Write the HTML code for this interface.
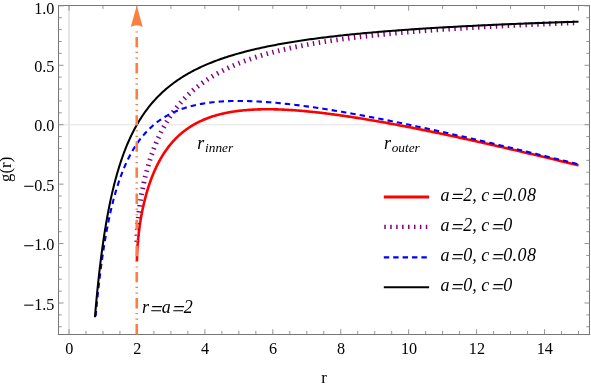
<!DOCTYPE html>
<html><head><meta charset="utf-8">
<style>
html,body{margin:0;padding:0;background:#fff;}
body{width:591px;height:384px;overflow:hidden;font-family:"Liberation Serif",serif;}
svg{display:block;will-change:transform;}
text{font-family:"Liberation Serif",serif;fill:#000;}
.tl{font-size:16.2px;}
.tk{stroke:#888;stroke-width:0.9;}
.it{font-style:italic;}
.eq{stroke:#000;stroke-width:1.15;fill:none;}
</style></head><body>
<svg width="591" height="384" viewBox="0 0 591 384">
<rect width="591" height="384" fill="#fff"/>
<!-- axes grid lines -->
<line x1="69.00" y1="5.5" x2="69.00" y2="334.5" stroke="#cdcdcd" stroke-width="1"/>
<line x1="58.5" y1="124.85" x2="589.5" y2="124.85" stroke="#e2e2e2" stroke-width="1"/>
<!-- curves -->
<clipPath id="cp"><rect x="58.5" y="5.5" width="531" height="311.9"/></clipPath>
<g fill="none" stroke-linejoin="round" clip-path="url(#cp)">
<path d="M136.94 261.18 L136.94 261.18 L136.94 261.17 L136.94 261.17 L136.94 261.16 L136.94 261.14 L136.94 261.11 L136.94 261.07 L136.94 261.03 L136.94 260.97 L136.94 260.90 L136.94 260.81 L136.94 260.72 L136.94 260.61 L136.94 260.49 L136.95 260.37 L136.95 260.23 L136.95 260.08 L136.95 259.93 L136.95 259.76 L136.96 259.59 L136.96 259.41 L136.96 259.22 L136.96 259.03 L136.97 258.83 L136.97 258.62 L136.97 258.41 L136.98 258.19 L136.98 257.96 L136.99 257.73 L136.99 257.50 L137.00 257.26 L137.01 257.01 L137.01 256.76 L137.02 256.51 L137.03 256.24 L137.03 255.98 L137.04 255.71 L137.05 255.43 L137.06 255.16 L137.07 254.87 L137.08 254.58 L137.09 254.29 L137.10 254.00 L137.11 253.70 L137.13 253.39 L137.14 253.08 L137.15 252.77 L137.17 252.45 L137.18 252.13 L137.20 251.81 L137.21 251.48 L137.23 251.14 L137.24 250.81 L137.26 250.47 L137.28 250.12 L137.30 249.77 L137.32 249.42 L137.34 249.07 L137.36 248.71 L137.38 248.34 L137.41 247.98 L137.43 247.61 L137.45 247.23 L137.48 246.85 L137.50 246.47 L137.53 246.09 L137.56 245.70 L137.58 245.31 L137.61 244.91 L137.64 244.51 L137.67 244.11 L137.71 243.71 L137.74 243.30 L137.77 242.88 L137.81 242.47 L137.84 242.05 L137.88 241.63 L137.91 241.20 L137.95 240.77 L137.99 240.34 L138.03 239.90 L138.07 239.47 L138.11 239.02 L138.16 238.58 L138.20 238.13 L138.25 237.68 L138.29 237.22 L138.34 236.77 L138.39 236.31 L138.44 235.84 L138.49 235.38 L138.54 234.91 L138.59 234.43 L138.65 233.96 L138.70 233.48 L138.76 233.00 L138.81 232.52 L138.87 232.03 L138.93 231.54 L138.99 231.05 L139.06 230.55 L139.12 230.05 L139.18 229.55 L139.25 229.05 L139.32 228.54 L139.39 228.03 L139.46 227.52 L139.53 227.01 L139.60 226.49 L139.67 225.97 L139.75 225.45 L139.83 224.93 L139.90 224.40 L139.98 223.87 L140.06 223.34 L140.15 222.81 L140.23 222.27 L140.31 221.74 L140.40 221.20 L140.49 220.65 L140.58 220.11 L140.67 219.56 L140.76 219.02 L140.86 218.46 L140.95 217.91 L141.05 217.36 L141.15 216.80 L141.25 216.24 L141.35 215.68 L141.45 215.12 L141.56 214.55 L141.66 213.99 L141.77 213.42 L141.88 212.85 L141.99 212.28 L142.11 211.71 L142.22 211.13 L142.34 210.56 L142.46 209.98 L142.58 209.40 L142.70 208.82 L142.82 208.24 L142.95 207.66 L143.07 207.07 L143.20 206.49 L143.33 205.90 L143.47 205.31 L143.60 204.72 L143.74 204.13 L143.87 203.54 L144.01 202.95 L144.15 202.35 L144.30 201.76 L144.44 201.16 L144.59 200.57 L144.74 199.97 L144.89 199.37 L145.04 198.77 L145.20 198.17 L145.35 197.57 L145.51 196.97 L145.67 196.37 L145.84 195.77 L146.00 195.17 L146.17 194.56 L146.34 193.96 L146.51 193.36 L146.68 192.75 L146.86 192.15 L147.03 191.55 L147.21 190.94 L147.39 190.34 L147.58 189.73 L147.76 189.13 L147.95 188.52 L148.14 187.92 L148.33 187.31 L148.53 186.71 L148.72 186.11 L148.92 185.50 L149.12 184.90 L149.32 184.29 L149.53 183.69 L149.74 183.09 L149.95 182.49 L150.16 181.88 L150.37 181.28 L150.59 180.68 L150.81 180.08 L151.03 179.48 L151.25 178.88 L151.48 178.28 L151.71 177.69 L151.94 177.09 L152.17 176.49 L152.41 175.90 L152.65 175.31 L152.89 174.71 L153.13 174.12 L153.38 173.53 L153.62 172.94 L153.87 172.35 L154.13 171.76 L154.38 171.18 L154.64 170.59 L154.90 170.01 L155.16 169.43 L155.43 168.85 L155.70 168.27 L155.97 167.69 L156.24 167.11 L156.51 166.54 L156.79 165.96 L157.07 165.39 L157.36 164.82 L157.64 164.25 L157.93 163.69 L158.22 163.12 L158.52 162.56 L158.82 162.00 L159.12 161.44 L159.42 160.88 L159.72 160.32 L160.03 159.77 L160.34 159.22 L160.65 158.67 L160.97 158.12 L161.29 157.58 L161.61 157.03 L161.94 156.49 L162.26 155.95 L162.59 155.42 L162.93 154.88 L163.26 154.35 L163.60 153.82 L163.94 153.29 L164.29 152.77 L164.64 152.24 L164.99 151.72 L165.34 151.21 L165.70 150.69 L166.06 150.18 L166.42 149.67 L166.78 149.16 L167.15 148.65 L167.52 148.15 L167.90 147.65 L168.28 147.15 L168.66 146.66 L169.04 146.17 L169.43 145.68 L169.82 145.19 L170.21 144.71 L170.61 144.23 L171.01 143.75 L171.41 143.27 L171.81 142.80 L172.22 142.33 L172.63 141.87 L173.05 141.40 L173.47 140.94 L173.89 140.49 L174.31 140.03 L174.74 139.58 L175.17 139.13 L175.61 138.69 L176.05 138.24 L176.49 137.80 L176.93 137.37 L177.38 136.93 L177.83 136.50 L178.28 136.08 L178.74 135.65 L179.20 135.23 L179.67 134.81 L180.13 134.40 L180.61 133.99 L181.08 133.58 L181.56 133.18 L182.04 132.78 L182.53 132.38 L183.01 131.98 L183.51 131.59 L184.00 131.20 L184.50 130.82 L185.00 130.44 L185.51 130.06 L186.02 129.68 L186.53 129.31 L187.05 128.94 L187.57 128.58 L188.09 128.22 L188.62 127.86 L189.15 127.50 L189.68 127.15 L190.22 126.80 L190.76 126.46 L191.31 126.12 L191.86 125.78 L192.41 125.45 L192.97 125.11 L193.53 124.79 L194.09 124.46 L194.66 124.14 L195.23 123.82 L195.81 123.51 L196.39 123.20 L196.97 122.89 L197.56 122.59 L198.15 122.29 L198.74 121.99 L199.34 121.70 L199.94 121.41 L200.55 121.12 L201.16 120.84 L201.77 120.56 L202.39 120.29 L203.01 120.01 L203.63 119.75 L204.26 119.48 L204.90 119.22 L205.53 118.96 L206.17 118.70 L206.82 118.45 L207.47 118.20 L208.12 117.96 L208.78 117.72 L209.44 117.48 L210.10 117.25 L210.77 117.02 L211.45 116.79 L212.12 116.57 L212.80 116.35 L213.49 116.13 L214.18 115.91 L214.87 115.70 L215.57 115.50 L216.27 115.30 L216.98 115.10 L217.69 114.90 L218.41 114.71 L219.12 114.52 L219.85 114.33 L220.57 114.15 L221.31 113.97 L222.04 113.79 L222.78 113.62 L223.53 113.45 L224.27 113.29 L225.03 113.13 L225.78 112.97 L226.55 112.81 L227.31 112.66 L228.08 112.51 L228.86 112.37 L229.64 112.23 L230.42 112.09 L231.21 111.95 L232.00 111.82 L232.80 111.69 L233.60 111.57 L234.40 111.45 L235.21 111.33 L236.03 111.22 L236.85 111.10 L237.67 111.00 L238.50 110.89 L239.33 110.79 L240.17 110.69 L241.01 110.60 L241.85 110.51 L242.70 110.42 L243.56 110.33 L244.42 110.25 L245.28 110.17 L246.15 110.10 L247.03 110.03 L247.90 109.96 L248.79 109.89 L249.68 109.83 L250.57 109.77 L251.47 109.72 L252.37 109.66 L253.27 109.62 L254.18 109.57 L255.10 109.53 L256.02 109.49 L256.95 109.45 L257.88 109.42 L258.81 109.39 L259.75 109.36 L260.70 109.34 L261.65 109.32 L262.60 109.30 L263.56 109.29 L264.52 109.28 L265.49 109.27 L266.47 109.26 L267.45 109.26 L268.43 109.26 L269.42 109.27 L270.41 109.28 L271.41 109.29 L272.41 109.30 L273.42 109.32 L274.44 109.34 L275.45 109.36 L276.48 109.39 L277.51 109.42 L278.54 109.45 L279.58 109.49 L280.62 109.53 L281.67 109.57 L282.72 109.61 L283.78 109.66 L284.85 109.71 L285.92 109.77 L286.99 109.82 L288.07 109.88 L289.16 109.95 L290.25 110.01 L291.34 110.08 L292.44 110.15 L293.55 110.23 L294.66 110.31 L295.77 110.39 L296.89 110.47 L298.02 110.56 L299.15 110.65 L300.29 110.74 L301.43 110.84 L302.58 110.93 L303.73 111.04 L304.89 111.14 L306.05 111.25 L307.22 111.36 L308.40 111.47 L309.58 111.59 L310.76 111.71 L311.95 111.83 L313.15 111.95 L314.35 112.08 L315.56 112.21 L316.77 112.34 L317.99 112.48 L319.21 112.62 L320.44 112.76 L321.67 112.91 L322.91 113.05 L324.16 113.20 L325.41 113.36 L326.67 113.51 L327.93 113.67 L329.20 113.83 L330.47 114.00 L331.75 114.17 L333.03 114.34 L334.32 114.51 L335.62 114.69 L336.92 114.86 L338.23 115.05 L339.54 115.23 L340.86 115.42 L342.18 115.61 L343.51 115.80 L344.85 115.99 L346.19 116.19 L347.54 116.39 L348.89 116.60 L350.25 116.80 L351.61 117.01 L352.98 117.22 L354.36 117.44 L355.74 117.65 L357.13 117.87 L358.52 118.10 L359.92 118.32 L361.33 118.55 L362.74 118.78 L364.15 119.01 L365.58 119.25 L367.01 119.49 L368.44 119.73 L369.88 119.98 L371.33 120.22 L372.78 120.47 L374.24 120.72 L375.71 120.98 L377.18 121.24 L378.65 121.50 L380.14 121.76 L381.63 122.03 L383.12 122.29 L384.62 122.56 L386.13 122.84 L387.64 123.11 L389.16 123.39 L390.69 123.68 L392.22 123.96 L393.76 124.25 L395.30 124.54 L396.85 124.83 L398.41 125.12 L399.97 125.42 L401.54 125.72 L403.11 126.02 L404.69 126.33 L406.28 126.64 L407.88 126.95 L409.48 127.26 L411.08 127.58 L412.69 127.89 L414.31 128.21 L415.94 128.54 L417.57 128.86 L419.21 129.19 L420.85 129.52 L422.50 129.86 L424.16 130.19 L425.82 130.53 L427.49 130.88 L429.17 131.22 L430.85 131.57 L432.54 131.92 L434.24 132.27 L435.94 132.62 L437.65 132.98 L439.36 133.34 L441.08 133.70 L442.81 134.07 L444.55 134.43 L446.29 134.80 L448.04 135.18 L449.79 135.55 L451.55 135.93 L453.32 136.31 L455.09 136.69 L456.87 137.08 L458.66 137.47 L460.46 137.86 L462.26 138.25 L464.06 138.65 L465.88 139.04 L467.70 139.44 L469.53 139.85 L471.36 140.25 L473.20 140.66 L475.05 141.07 L476.90 141.49 L478.76 141.90 L480.63 142.32 L482.51 142.74 L484.39 143.17 L486.28 143.59 L488.17 144.02 L490.07 144.45 L491.98 144.88 L493.90 145.32 L495.82 145.76 L497.75 146.20 L499.69 146.65 L501.63 147.09 L503.58 147.54 L505.54 147.99 L507.50 148.45 L509.47 148.90 L511.45 149.36 L513.43 149.82 L515.43 150.29 L517.43 150.75 L519.43 151.22 L521.45 151.69 L523.47 152.17 L525.49 152.65 L527.53 153.13 L529.57 153.61 L531.62 154.09 L533.67 154.58 L535.74 155.07 L537.80 155.56 L539.88 156.05 L541.97 156.55 L544.06 157.05 L546.16 157.55 L548.26 158.06 L550.37 158.56 L552.49 159.07 L554.62 159.59 L556.76 160.10 L558.90 160.62 L561.05 161.14 L563.20 161.66 L565.37 162.18 L567.54 162.71 L569.72 163.24 L571.90 163.77 L574.10 164.31 L576.30 164.84 L578.50 165.38" stroke="#ff0000" stroke-width="2.6"/>
<path d="M136.94 242.16 L136.94 242.15 L136.94 242.15 L136.94 242.15 L136.94 242.14 L136.94 242.12 L136.94 242.09 L136.94 242.05 L136.94 242.01 L136.94 241.95 L136.94 241.88 L136.94 241.79 L136.94 241.70 L136.94 241.59 L136.94 241.47 L136.95 241.34 L136.95 241.21 L136.95 241.06 L136.95 240.90 L136.95 240.74 L136.96 240.56 L136.96 240.38 L136.96 240.20 L136.96 240.00 L136.97 239.80 L136.97 239.59 L136.97 239.38 L136.98 239.16 L136.98 238.93 L136.99 238.70 L136.99 238.46 L137.00 238.22 L137.01 237.97 L137.01 237.72 L137.02 237.46 L137.03 237.20 L137.03 236.93 L137.04 236.66 L137.05 236.38 L137.06 236.10 L137.07 235.81 L137.08 235.52 L137.09 235.23 L137.10 234.93 L137.11 234.63 L137.13 234.32 L137.14 234.00 L137.15 233.69 L137.17 233.37 L137.18 233.04 L137.20 232.71 L137.21 232.38 L137.23 232.04 L137.24 231.70 L137.26 231.35 L137.28 231.01 L137.30 230.65 L137.32 230.29 L137.34 229.93 L137.36 229.57 L137.38 229.20 L137.41 228.82 L137.43 228.45 L137.45 228.07 L137.48 227.68 L137.50 227.29 L137.53 226.90 L137.56 226.51 L137.58 226.11 L137.61 225.70 L137.64 225.30 L137.67 224.88 L137.71 224.47 L137.74 224.05 L137.77 223.63 L137.81 223.20 L137.84 222.78 L137.88 222.34 L137.91 221.91 L137.95 221.47 L137.99 221.02 L138.03 220.58 L138.07 220.13 L138.11 219.67 L138.16 219.22 L138.20 218.76 L138.25 218.29 L138.29 217.83 L138.34 217.35 L138.39 216.88 L138.44 216.40 L138.49 215.92 L138.54 215.44 L138.59 214.95 L138.65 214.46 L138.70 213.97 L138.76 213.47 L138.81 212.97 L138.87 212.47 L138.93 211.96 L138.99 211.45 L139.06 210.94 L139.12 210.42 L139.18 209.90 L139.25 209.38 L139.32 208.86 L139.39 208.33 L139.46 207.80 L139.53 207.26 L139.60 206.73 L139.67 206.19 L139.75 205.65 L139.83 205.10 L139.90 204.55 L139.98 204.00 L140.06 203.45 L140.15 202.89 L140.23 202.33 L140.31 201.77 L140.40 201.21 L140.49 200.64 L140.58 200.07 L140.67 199.50 L140.76 198.92 L140.86 198.35 L140.95 197.77 L141.05 197.19 L141.15 196.60 L141.25 196.01 L141.35 195.43 L141.45 194.83 L141.56 194.24 L141.66 193.65 L141.77 193.05 L141.88 192.45 L141.99 191.84 L142.11 191.24 L142.22 190.63 L142.34 190.03 L142.46 189.41 L142.58 188.80 L142.70 188.19 L142.82 187.57 L142.95 186.95 L143.07 186.33 L143.20 185.71 L143.33 185.09 L143.47 184.46 L143.60 183.84 L143.74 183.21 L143.87 182.58 L144.01 181.95 L144.15 181.31 L144.30 180.68 L144.44 180.04 L144.59 179.40 L144.74 178.77 L144.89 178.13 L145.04 177.48 L145.20 176.84 L145.35 176.20 L145.51 175.55 L145.67 174.91 L145.84 174.26 L146.00 173.61 L146.17 172.96 L146.34 172.31 L146.51 171.66 L146.68 171.01 L146.86 170.35 L147.03 169.70 L147.21 169.05 L147.39 168.39 L147.58 167.73 L147.76 167.08 L147.95 166.42 L148.14 165.76 L148.33 165.10 L148.53 164.44 L148.72 163.79 L148.92 163.13 L149.12 162.47 L149.32 161.81 L149.53 161.14 L149.74 160.48 L149.95 159.82 L150.16 159.16 L150.37 158.50 L150.59 157.84 L150.81 157.18 L151.03 156.52 L151.25 155.85 L151.48 155.19 L151.71 154.53 L151.94 153.87 L152.17 153.21 L152.41 152.55 L152.65 151.89 L152.89 151.23 L153.13 150.57 L153.38 149.91 L153.62 149.25 L153.87 148.59 L154.13 147.93 L154.38 147.27 L154.64 146.62 L154.90 145.96 L155.16 145.30 L155.43 144.65 L155.70 144.00 L155.97 143.34 L156.24 142.69 L156.51 142.04 L156.79 141.39 L157.07 140.73 L157.36 140.09 L157.64 139.44 L157.93 138.79 L158.22 138.14 L158.52 137.50 L158.82 136.85 L159.12 136.21 L159.42 135.57 L159.72 134.93 L160.03 134.29 L160.34 133.65 L160.65 133.01 L160.97 132.37 L161.29 131.74 L161.61 131.11 L161.94 130.47 L162.26 129.84 L162.59 129.21 L162.93 128.59 L163.26 127.96 L163.60 127.33 L163.94 126.71 L164.29 126.09 L164.64 125.47 L164.99 124.85 L165.34 124.23 L165.70 123.62 L166.06 123.00 L166.42 122.39 L166.78 121.78 L167.15 121.17 L167.52 120.57 L167.90 119.96 L168.28 119.36 L168.66 118.76 L169.04 118.16 L169.43 117.56 L169.82 116.97 L170.21 116.37 L170.61 115.78 L171.01 115.19 L171.41 114.60 L171.81 114.02 L172.22 113.43 L172.63 112.85 L173.05 112.27 L173.47 111.70 L173.89 111.12 L174.31 110.55 L174.74 109.97 L175.17 109.41 L175.61 108.84 L176.05 108.27 L176.49 107.71 L176.93 107.15 L177.38 106.59 L177.83 106.04 L178.28 105.48 L178.74 104.93 L179.20 104.38 L179.67 103.83 L180.13 103.29 L180.61 102.74 L181.08 102.20 L181.56 101.66 L182.04 101.13 L182.53 100.59 L183.01 100.06 L183.51 99.53 L184.00 99.01 L184.50 98.48 L185.00 97.96 L185.51 97.44 L186.02 96.92 L186.53 96.41 L187.05 95.89 L187.57 95.38 L188.09 94.88 L188.62 94.37 L189.15 93.87 L189.68 93.36 L190.22 92.87 L190.76 92.37 L191.31 91.88 L191.86 91.38 L192.41 90.89 L192.97 90.41 L193.53 89.92 L194.09 89.44 L194.66 88.96 L195.23 88.48 L195.81 88.01 L196.39 87.54 L196.97 87.07 L197.56 86.60 L198.15 86.13 L198.74 85.67 L199.34 85.21 L199.94 84.75 L200.55 84.30 L201.16 83.84 L201.77 83.39 L202.39 82.94 L203.01 82.50 L203.63 82.05 L204.26 81.61 L204.90 81.17 L205.53 80.73 L206.17 80.30 L206.82 79.87 L207.47 79.44 L208.12 79.01 L208.78 78.59 L209.44 78.16 L210.10 77.74 L210.77 77.32 L211.45 76.91 L212.12 76.50 L212.80 76.08 L213.49 75.68 L214.18 75.27 L214.87 74.87 L215.57 74.46 L216.27 74.06 L216.98 73.67 L217.69 73.27 L218.41 72.88 L219.12 72.49 L219.85 72.10 L220.57 71.71 L221.31 71.33 L222.04 70.95 L222.78 70.57 L223.53 70.19 L224.27 69.82 L225.03 69.44 L225.78 69.07 L226.55 68.71 L227.31 68.34 L228.08 67.98 L228.86 67.61 L229.64 67.25 L230.42 66.90 L231.21 66.54 L232.00 66.19 L232.80 65.84 L233.60 65.49 L234.40 65.14 L235.21 64.80 L236.03 64.45 L236.85 64.11 L237.67 63.77 L238.50 63.44 L239.33 63.10 L240.17 62.77 L241.01 62.44 L241.85 62.11 L242.70 61.79 L243.56 61.46 L244.42 61.14 L245.28 60.82 L246.15 60.50 L247.03 60.19 L247.90 59.87 L248.79 59.56 L249.68 59.25 L250.57 58.94 L251.47 58.63 L252.37 58.33 L253.27 58.03 L254.18 57.72 L255.10 57.43 L256.02 57.13 L256.95 56.83 L257.88 56.54 L258.81 56.25 L259.75 55.96 L260.70 55.67 L261.65 55.38 L262.60 55.10 L263.56 54.82 L264.52 54.54 L265.49 54.26 L266.47 53.98 L267.45 53.70 L268.43 53.43 L269.42 53.16 L270.41 52.89 L271.41 52.62 L272.41 52.35 L273.42 52.09 L274.44 51.83 L275.45 51.56 L276.48 51.30 L277.51 51.05 L278.54 50.79 L279.58 50.53 L280.62 50.28 L281.67 50.03 L282.72 49.78 L283.78 49.53 L284.85 49.28 L285.92 49.04 L286.99 48.79 L288.07 48.55 L289.16 48.31 L290.25 48.07 L291.34 47.83 L292.44 47.60 L293.55 47.36 L294.66 47.13 L295.77 46.90 L296.89 46.67 L298.02 46.44 L299.15 46.21 L300.29 45.99 L301.43 45.76 L302.58 45.54 L303.73 45.32 L304.89 45.10 L306.05 44.88 L307.22 44.66 L308.40 44.45 L309.58 44.23 L310.76 44.02 L311.95 43.81 L313.15 43.60 L314.35 43.39 L315.56 43.18 L316.77 42.98 L317.99 42.77 L319.21 42.57 L320.44 42.37 L321.67 42.17 L322.91 41.97 L324.16 41.77 L325.41 41.57 L326.67 41.38 L327.93 41.18 L329.20 40.99 L330.47 40.80 L331.75 40.61 L333.03 40.42 L334.32 40.23 L335.62 40.04 L336.92 39.86 L338.23 39.67 L339.54 39.49 L340.86 39.31 L342.18 39.12 L343.51 38.94 L344.85 38.77 L346.19 38.59 L347.54 38.41 L348.89 38.24 L350.25 38.06 L351.61 37.89 L352.98 37.72 L354.36 37.55 L355.74 37.38 L357.13 37.21 L358.52 37.04 L359.92 36.87 L361.33 36.71 L362.74 36.54 L364.15 36.38 L365.58 36.22 L367.01 36.06 L368.44 35.90 L369.88 35.74 L371.33 35.58 L372.78 35.42 L374.24 35.27 L375.71 35.11 L377.18 34.96 L378.65 34.80 L380.14 34.65 L381.63 34.50 L383.12 34.35 L384.62 34.20 L386.13 34.05 L387.64 33.91 L389.16 33.76 L390.69 33.61 L392.22 33.47 L393.76 33.33 L395.30 33.18 L396.85 33.04 L398.41 32.90 L399.97 32.76 L401.54 32.62 L403.11 32.48 L404.69 32.35 L406.28 32.21 L407.88 32.07 L409.48 31.94 L411.08 31.80 L412.69 31.67 L414.31 31.54 L415.94 31.41 L417.57 31.28 L419.21 31.15 L420.85 31.02 L422.50 30.89 L424.16 30.76 L425.82 30.64 L427.49 30.51 L429.17 30.38 L430.85 30.26 L432.54 30.14 L434.24 30.01 L435.94 29.89 L437.65 29.77 L439.36 29.65 L441.08 29.53 L442.81 29.41 L444.55 29.29 L446.29 29.18 L448.04 29.06 L449.79 28.94 L451.55 28.83 L453.32 28.71 L455.09 28.60 L456.87 28.49 L458.66 28.37 L460.46 28.26 L462.26 28.15 L464.06 28.04 L465.88 27.93 L467.70 27.82 L469.53 27.71 L471.36 27.61 L473.20 27.50 L475.05 27.39 L476.90 27.29 L478.76 27.18 L480.63 27.08 L482.51 26.97 L484.39 26.87 L486.28 26.77 L488.17 26.67 L490.07 26.57 L491.98 26.46 L493.90 26.36 L495.82 26.27 L497.75 26.17 L499.69 26.07 L501.63 25.97 L503.58 25.87 L505.54 25.78 L507.50 25.68 L509.47 25.59 L511.45 25.49 L513.43 25.40 L515.43 25.30 L517.43 25.21 L519.43 25.12 L521.45 25.03 L523.47 24.93 L525.49 24.84 L527.53 24.75 L529.57 24.66 L531.62 24.57 L533.67 24.49 L535.74 24.40 L537.80 24.31 L539.88 24.22 L541.97 24.14 L544.06 24.05 L546.16 23.96 L548.26 23.88 L550.37 23.80 L552.49 23.71 L554.62 23.63 L556.76 23.54 L558.90 23.46 L561.05 23.38 L563.20 23.30 L565.37 23.22 L567.54 23.14 L569.72 23.06 L571.90 22.98 L574.10 22.90 L576.30 22.82 L578.50 22.74" stroke="#800080" stroke-width="4.9" stroke-dasharray="1.4 4.53" stroke-dashoffset="-0.15"/>
<path d="M95.56 317.28 L95.57 317.25 L95.57 317.15 L95.59 316.98 L95.61 316.74 L95.64 316.44 L95.67 316.07 L95.71 315.63 L95.76 315.13 L95.81 314.56 L95.87 313.93 L95.93 313.24 L96.00 312.49 L96.07 311.67 L96.16 310.79 L96.24 309.86 L96.34 308.86 L96.44 307.81 L96.55 306.71 L96.66 305.55 L96.78 304.34 L96.90 303.08 L97.03 301.77 L97.17 300.41 L97.31 299.01 L97.46 297.56 L97.61 296.07 L97.77 294.54 L97.94 292.96 L98.11 291.36 L98.29 289.71 L98.48 288.03 L98.67 286.32 L98.87 284.58 L99.07 282.81 L99.28 281.01 L99.49 279.19 L99.72 277.34 L99.94 275.47 L100.18 273.58 L100.42 271.67 L100.66 269.75 L100.91 267.80 L101.17 265.85 L101.44 263.88 L101.71 261.90 L101.98 259.91 L102.26 257.91 L102.55 255.91 L102.85 253.90 L103.15 251.88 L103.45 249.87 L103.76 247.85 L104.08 245.83 L104.41 243.81 L104.74 241.79 L105.08 239.78 L105.42 237.76 L105.77 235.76 L106.12 233.76 L106.48 231.76 L106.85 229.78 L107.22 227.80 L107.60 225.83 L107.99 223.87 L108.38 221.92 L108.78 219.98 L109.18 218.06 L109.59 216.15 L110.00 214.25 L110.43 212.36 L110.85 210.49 L111.29 208.63 L111.73 206.79 L112.17 204.96 L112.63 203.15 L113.08 201.35 L113.55 199.57 L114.02 197.81 L114.49 196.07 L114.98 194.34 L115.47 192.63 L115.96 190.94 L116.46 189.27 L116.97 187.61 L117.48 185.97 L118.00 184.36 L118.52 182.76 L119.05 181.18 L119.59 179.61 L120.13 178.07 L120.68 176.55 L121.24 175.04 L121.80 173.56 L122.37 172.09 L122.94 170.64 L123.52 169.21 L124.10 167.80 L124.70 166.41 L125.29 165.04 L125.90 163.69 L126.51 162.35 L127.12 161.04 L127.75 159.74 L128.37 158.46 L129.01 157.20 L129.65 155.96 L130.29 154.74 L130.95 153.53 L131.60 152.35 L132.27 151.18 L132.94 150.03 L133.61 148.90 L134.30 147.78 L134.99 146.68 L135.68 145.60 L136.38 144.54 L137.09 143.49 L137.80 142.46 L138.52 141.45 L139.25 140.46 L139.98 139.48 L140.71 138.51 L141.46 137.57 L142.21 136.63 L142.96 135.72 L143.72 134.82 L144.49 133.94 L145.26 133.07 L146.04 132.21 L146.83 131.38 L147.62 130.55 L148.42 129.74 L149.22 128.95 L150.03 128.17 L150.85 127.41 L151.67 126.66 L152.50 125.92 L153.33 125.20 L154.17 124.49 L155.02 123.79 L155.87 123.11 L156.73 122.44 L157.60 121.78 L158.47 121.14 L159.34 120.51 L160.23 119.89 L161.11 119.29 L162.01 118.69 L162.91 118.11 L163.82 117.54 L164.73 116.99 L165.65 116.44 L166.57 115.91 L167.51 115.39 L168.44 114.88 L169.39 114.38 L170.34 113.89 L171.29 113.41 L172.25 112.95 L173.22 112.49 L174.19 112.05 L175.17 111.61 L176.16 111.19 L177.15 110.78 L178.15 110.37 L179.15 109.98 L180.16 109.60 L181.18 109.22 L182.20 108.86 L183.23 108.50 L184.27 108.16 L185.31 107.82 L186.35 107.50 L187.41 107.18 L188.46 106.87 L189.53 106.57 L190.60 106.28 L191.68 106.00 L192.76 105.73 L193.85 105.46 L194.94 105.21 L196.05 104.96 L197.15 104.72 L198.27 104.49 L199.39 104.27 L200.51 104.05 L201.64 103.85 L202.78 103.65 L203.92 103.46 L205.07 103.27 L206.23 103.10 L207.39 102.93 L208.56 102.76 L209.73 102.61 L210.91 102.46 L212.10 102.32 L213.29 102.19 L214.49 102.07 L215.69 101.95 L216.90 101.84 L218.12 101.73 L219.34 101.63 L220.57 101.54 L221.81 101.46 L223.05 101.38 L224.29 101.31 L225.55 101.24 L226.81 101.18 L228.07 101.13 L229.34 101.08 L230.62 101.04 L231.90 101.01 L233.19 100.98 L234.49 100.96 L235.79 100.94 L237.10 100.93 L238.41 100.93 L239.73 100.93 L241.05 100.93 L242.39 100.95 L243.72 100.96 L245.07 100.99 L246.42 101.02 L247.77 101.05 L249.14 101.09 L250.50 101.14 L251.88 101.19 L253.26 101.24 L254.64 101.30 L256.04 101.37 L257.43 101.44 L258.84 101.52 L260.25 101.60 L261.67 101.68 L263.09 101.77 L264.52 101.87 L265.95 101.97 L267.39 102.08 L268.84 102.19 L270.29 102.30 L271.75 102.42 L273.22 102.55 L274.69 102.68 L276.17 102.81 L277.65 102.95 L279.14 103.09 L280.64 103.24 L282.14 103.39 L283.64 103.54 L285.16 103.71 L286.68 103.87 L288.20 104.04 L289.74 104.21 L291.27 104.39 L292.82 104.57 L294.37 104.76 L295.92 104.95 L297.49 105.14 L299.06 105.34 L300.63 105.54 L302.21 105.75 L303.80 105.96 L305.39 106.17 L306.99 106.39 L308.59 106.61 L310.20 106.84 L311.82 107.07 L313.44 107.30 L315.07 107.54 L316.71 107.78 L318.35 108.02 L320.00 108.27 L321.65 108.53 L323.31 108.78 L324.97 109.04 L326.65 109.30 L328.32 109.57 L330.01 109.84 L331.70 110.12 L333.39 110.39 L335.09 110.67 L336.80 110.96 L338.52 111.25 L340.24 111.54 L341.96 111.83 L343.69 112.13 L345.43 112.43 L347.18 112.74 L348.93 113.05 L350.68 113.36 L352.45 113.67 L354.21 113.99 L355.99 114.32 L357.77 114.64 L359.56 114.97 L361.35 115.30 L363.15 115.63 L364.95 115.97 L366.76 116.31 L368.58 116.66 L370.40 117.01 L372.23 117.36 L374.07 117.71 L375.91 118.07 L377.76 118.43 L379.61 118.79 L381.47 119.15 L383.34 119.52 L385.21 119.90 L387.09 120.27 L388.97 120.65 L390.86 121.03 L392.76 121.41 L394.66 121.80 L396.57 122.19 L398.48 122.58 L400.40 122.98 L402.33 123.38 L404.26 123.78 L406.20 124.18 L408.14 124.59 L410.09 125.00 L412.05 125.41 L414.01 125.83 L415.98 126.25 L417.95 126.67 L419.94 127.09 L421.92 127.52 L423.92 127.95 L425.91 128.38 L427.92 128.81 L429.93 129.25 L431.95 129.69 L433.97 130.14 L436.00 130.58 L438.04 131.03 L440.08 131.48 L442.13 131.93 L444.18 132.39 L446.24 132.85 L448.31 133.31 L450.38 133.78 L452.46 134.24 L454.54 134.71 L456.63 135.19 L458.73 135.66 L460.83 136.14 L462.94 136.62 L465.05 137.10 L467.17 137.59 L469.30 138.07 L471.43 138.56 L473.57 139.06 L475.71 139.55 L477.86 140.05 L480.02 140.55 L482.18 141.05 L484.35 141.56 L486.53 142.06 L488.71 142.57 L490.90 143.09 L493.09 143.60 L495.29 144.12 L497.49 144.64 L499.71 145.16 L501.92 145.69 L504.15 146.21 L506.38 146.74 L508.61 147.28 L510.85 147.81 L513.10 148.35 L515.36 148.89 L517.62 149.43 L519.88 149.97 L522.15 150.52 L524.43 151.07 L526.72 151.62 L529.01 152.17 L531.30 152.73 L533.61 153.28 L535.91 153.85 L538.23 154.41 L540.55 154.97 L542.88 155.54 L545.21 156.11 L547.55 156.68 L549.89 157.26 L552.24 157.83 L554.60 158.41 L556.96 158.99 L559.33 159.58 L561.71 160.16 L564.09 160.75 L566.48 161.34 L568.87 161.93 L571.27 162.53 L573.68 163.12 L576.09 163.72 L578.50 164.32" stroke="#0000ff" stroke-width="2.1" stroke-dasharray="5.4 4.065" stroke-dashoffset="-1"/>
<path d="M94.92 317.42 L94.92 317.38 L94.93 317.27 L94.94 317.09 L94.97 316.83 L94.99 316.51 L95.03 316.11 L95.07 315.64 L95.11 315.10 L95.16 314.49 L95.22 313.81 L95.28 313.06 L95.35 312.24 L95.43 311.36 L95.51 310.42 L95.60 309.41 L95.69 308.34 L95.79 307.21 L95.90 306.02 L96.01 304.77 L96.13 303.46 L96.26 302.10 L96.39 300.69 L96.52 299.22 L96.67 297.71 L96.82 296.15 L96.97 294.54 L97.13 292.89 L97.30 291.19 L97.47 289.46 L97.65 287.68 L97.84 285.87 L98.03 284.03 L98.22 282.15 L98.43 280.24 L98.64 278.30 L98.85 276.33 L99.08 274.33 L99.30 272.31 L99.54 270.27 L99.78 268.21 L100.02 266.13 L100.28 264.03 L100.53 261.92 L100.80 259.79 L101.07 257.65 L101.34 255.50 L101.63 253.34 L101.92 251.17 L102.21 248.99 L102.51 246.81 L102.82 244.62 L103.13 242.43 L103.45 240.24 L103.77 238.05 L104.11 235.86 L104.44 233.67 L104.79 231.49 L105.14 229.30 L105.49 227.13 L105.85 224.96 L106.22 222.79 L106.59 220.64 L106.97 218.49 L107.36 216.35 L107.75 214.22 L108.15 212.10 L108.55 210.00 L108.96 207.90 L109.38 205.82 L109.80 203.75 L110.23 201.69 L110.66 199.65 L111.10 197.62 L111.55 195.61 L112.00 193.61 L112.46 191.63 L112.93 189.67 L113.40 187.72 L113.87 185.78 L114.36 183.87 L114.85 181.97 L115.34 180.09 L115.84 178.22 L116.35 176.37 L116.86 174.55 L117.38 172.73 L117.91 170.94 L118.44 169.17 L118.98 167.41 L119.52 165.67 L120.07 163.95 L120.63 162.25 L121.19 160.56 L121.76 158.90 L122.33 157.25 L122.91 155.62 L123.50 154.01 L124.09 152.41 L124.69 150.84 L125.29 149.28 L125.90 147.74 L126.52 146.22 L127.14 144.72 L127.77 143.23 L128.41 141.76 L129.05 140.31 L129.69 138.88 L130.35 137.46 L131.01 136.06 L131.67 134.68 L132.34 133.32 L133.02 131.97 L133.70 130.63 L134.39 129.32 L135.09 128.02 L135.79 126.73 L136.50 125.47 L137.21 124.22 L137.93 122.98 L138.66 121.76 L139.39 120.55 L140.13 119.36 L140.87 118.19 L141.62 117.03 L142.38 115.88 L143.14 114.75 L143.91 113.63 L144.68 112.53 L145.47 111.44 L146.25 110.36 L147.04 109.30 L147.84 108.25 L148.65 107.22 L149.46 106.19 L150.28 105.19 L151.10 104.19 L151.93 103.21 L152.76 102.23 L153.61 101.28 L154.45 100.33 L155.31 99.39 L156.17 98.47 L157.03 97.56 L157.90 96.66 L158.78 95.77 L159.67 94.90 L160.56 94.03 L161.45 93.18 L162.35 92.33 L163.26 91.50 L164.18 90.68 L165.10 89.86 L166.02 89.06 L166.96 88.27 L167.90 87.49 L168.84 86.71 L169.79 85.95 L170.75 85.20 L171.71 84.45 L172.68 83.72 L173.65 82.99 L174.64 82.28 L175.62 81.57 L176.62 80.87 L177.62 80.18 L178.62 79.50 L179.63 78.82 L180.65 78.16 L181.67 77.50 L182.70 76.85 L183.74 76.21 L184.78 75.58 L185.83 74.95 L186.88 74.33 L187.94 73.72 L189.01 73.12 L190.08 72.52 L191.16 71.93 L192.24 71.35 L193.33 70.78 L194.43 70.21 L195.53 69.65 L196.64 69.09 L197.76 68.55 L198.88 68.01 L200.01 67.47 L201.14 66.94 L202.28 66.42 L203.42 65.90 L204.57 65.39 L205.73 64.89 L206.89 64.39 L208.06 63.90 L209.24 63.41 L210.42 62.93 L211.61 62.46 L212.80 61.99 L214.00 61.52 L215.21 61.06 L216.42 60.61 L217.64 60.16 L218.86 59.71 L220.09 59.28 L221.33 58.84 L222.57 58.41 L223.82 57.99 L225.07 57.57 L226.34 57.16 L227.60 56.75 L228.87 56.34 L230.15 55.94 L231.44 55.54 L232.73 55.15 L234.03 54.76 L235.33 54.38 L236.64 54.00 L237.95 53.63 L239.28 53.25 L240.60 52.89 L241.94 52.53 L243.28 52.17 L244.62 51.81 L245.97 51.46 L247.33 51.11 L248.70 50.77 L250.07 50.43 L251.44 50.09 L252.82 49.76 L254.21 49.43 L255.61 49.10 L257.01 48.78 L258.41 48.46 L259.82 48.15 L261.24 47.84 L262.67 47.53 L264.10 47.22 L265.54 46.92 L266.98 46.62 L268.43 46.32 L269.88 46.03 L271.34 45.74 L272.81 45.45 L274.28 45.17 L275.76 44.89 L277.25 44.61 L278.74 44.33 L280.24 44.06 L281.74 43.79 L283.25 43.52 L284.77 43.26 L286.29 42.99 L287.82 42.73 L289.35 42.48 L290.89 42.22 L292.44 41.97 L293.99 41.72 L295.55 41.48 L297.11 41.23 L298.68 40.99 L300.26 40.75 L301.84 40.51 L303.43 40.28 L305.02 40.04 L306.63 39.81 L308.23 39.59 L309.84 39.36 L311.46 39.14 L313.09 38.91 L314.72 38.69 L316.36 38.48 L318.00 38.26 L319.65 38.05 L321.31 37.84 L322.97 37.63 L324.63 37.42 L326.31 37.21 L327.99 37.01 L329.67 36.81 L331.37 36.61 L333.06 36.41 L334.77 36.21 L336.48 36.02 L338.19 35.83 L339.92 35.64 L341.65 35.45 L343.38 35.26 L345.12 35.08 L346.87 34.89 L348.62 34.71 L350.38 34.53 L352.14 34.35 L353.91 34.17 L355.69 34.00 L357.47 33.82 L359.26 33.65 L361.06 33.48 L362.86 33.31 L364.67 33.14 L366.48 32.98 L368.30 32.81 L370.13 32.65 L371.96 32.48 L373.80 32.32 L375.64 32.16 L377.49 32.01 L379.35 31.85 L381.21 31.70 L383.08 31.54 L384.95 31.39 L386.83 31.24 L388.72 31.09 L390.61 30.94 L392.51 30.79 L394.41 30.65 L396.32 30.50 L398.24 30.36 L400.16 30.21 L402.09 30.07 L404.03 29.93 L405.97 29.79 L407.91 29.66 L409.87 29.52 L411.83 29.39 L413.79 29.25 L415.76 29.12 L417.74 28.99 L419.72 28.85 L421.71 28.72 L423.71 28.60 L425.71 28.47 L427.72 28.34 L429.73 28.22 L431.75 28.09 L433.78 27.97 L435.81 27.84 L437.85 27.72 L439.89 27.60 L441.94 27.48 L444.00 27.36 L446.06 27.25 L448.13 27.13 L450.21 27.01 L452.29 26.90 L454.37 26.78 L456.47 26.67 L458.57 26.56 L460.67 26.45 L462.78 26.34 L464.90 26.23 L467.02 26.12 L469.15 26.01 L471.29 25.90 L473.43 25.80 L475.58 25.69 L477.73 25.59 L479.89 25.48 L482.06 25.38 L484.23 25.28 L486.41 25.18 L488.59 25.08 L490.78 24.98 L492.98 24.88 L495.18 24.78 L497.39 24.68 L499.60 24.58 L501.82 24.49 L504.05 24.39 L506.28 24.30 L508.52 24.20 L510.76 24.11 L513.01 24.02 L515.27 23.93 L517.53 23.83 L519.80 23.74 L522.08 23.65 L524.36 23.56 L526.65 23.48 L528.94 23.39 L531.24 23.30 L533.55 23.21 L535.86 23.13 L538.17 23.04 L540.50 22.96 L542.83 22.87 L545.16 22.79 L547.51 22.71 L549.85 22.62 L552.21 22.54 L554.57 22.46 L556.94 22.38 L559.31 22.30 L561.69 22.22 L564.07 22.14 L566.46 22.06 L568.86 21.99 L571.26 21.91 L573.67 21.83 L576.08 21.76 L578.50 21.68" stroke="#000" stroke-width="2.05"/>
</g>
<!-- frame -->
<rect x="58.5" y="5.5" width="531.0" height="329.0" fill="none" stroke="#767676" stroke-width="1"/>
<line class="tk" x1="69.00" y1="334.50" x2="69.00" y2="329.30"/>
<line class="tk" x1="85.98" y1="334.50" x2="85.98" y2="330.90"/>
<line class="tk" x1="102.97" y1="334.50" x2="102.97" y2="330.90"/>
<line class="tk" x1="119.95" y1="334.50" x2="119.95" y2="330.90"/>
<line class="tk" x1="136.93" y1="334.50" x2="136.93" y2="329.30"/>
<line class="tk" x1="153.92" y1="334.50" x2="153.92" y2="330.90"/>
<line class="tk" x1="170.90" y1="334.50" x2="170.90" y2="330.90"/>
<line class="tk" x1="187.88" y1="334.50" x2="187.88" y2="330.90"/>
<line class="tk" x1="204.87" y1="334.50" x2="204.87" y2="329.30"/>
<line class="tk" x1="221.85" y1="334.50" x2="221.85" y2="330.90"/>
<line class="tk" x1="238.83" y1="334.50" x2="238.83" y2="330.90"/>
<line class="tk" x1="255.82" y1="334.50" x2="255.82" y2="330.90"/>
<line class="tk" x1="272.80" y1="334.50" x2="272.80" y2="329.30"/>
<line class="tk" x1="289.79" y1="334.50" x2="289.79" y2="330.90"/>
<line class="tk" x1="306.77" y1="334.50" x2="306.77" y2="330.90"/>
<line class="tk" x1="323.75" y1="334.50" x2="323.75" y2="330.90"/>
<line class="tk" x1="340.74" y1="334.50" x2="340.74" y2="329.30"/>
<line class="tk" x1="357.72" y1="334.50" x2="357.72" y2="330.90"/>
<line class="tk" x1="374.70" y1="334.50" x2="374.70" y2="330.90"/>
<line class="tk" x1="391.69" y1="334.50" x2="391.69" y2="330.90"/>
<line class="tk" x1="408.67" y1="334.50" x2="408.67" y2="329.30"/>
<line class="tk" x1="425.65" y1="334.50" x2="425.65" y2="330.90"/>
<line class="tk" x1="442.64" y1="334.50" x2="442.64" y2="330.90"/>
<line class="tk" x1="459.62" y1="334.50" x2="459.62" y2="330.90"/>
<line class="tk" x1="476.60" y1="334.50" x2="476.60" y2="329.30"/>
<line class="tk" x1="493.59" y1="334.50" x2="493.59" y2="330.90"/>
<line class="tk" x1="510.57" y1="334.50" x2="510.57" y2="330.90"/>
<line class="tk" x1="527.55" y1="334.50" x2="527.55" y2="330.90"/>
<line class="tk" x1="544.54" y1="334.50" x2="544.54" y2="329.30"/>
<line class="tk" x1="561.52" y1="334.50" x2="561.52" y2="330.90"/>
<line class="tk" x1="578.50" y1="334.50" x2="578.50" y2="330.90"/>
<line class="tk" x1="69.00" y1="5.50" x2="69.00" y2="10.70"/>
<line class="tk" x1="102.97" y1="5.50" x2="102.97" y2="8.90"/>
<line class="tk" x1="136.93" y1="5.50" x2="136.93" y2="8.90"/>
<line class="tk" x1="170.90" y1="5.50" x2="170.90" y2="8.90"/>
<line class="tk" x1="204.87" y1="5.50" x2="204.87" y2="8.90"/>
<line class="tk" x1="238.83" y1="5.50" x2="238.83" y2="10.70"/>
<line class="tk" x1="272.80" y1="5.50" x2="272.80" y2="8.90"/>
<line class="tk" x1="306.77" y1="5.50" x2="306.77" y2="8.90"/>
<line class="tk" x1="340.74" y1="5.50" x2="340.74" y2="8.90"/>
<line class="tk" x1="374.70" y1="5.50" x2="374.70" y2="8.90"/>
<line class="tk" x1="408.67" y1="5.50" x2="408.67" y2="10.70"/>
<line class="tk" x1="442.64" y1="5.50" x2="442.64" y2="8.90"/>
<line class="tk" x1="476.60" y1="5.50" x2="476.60" y2="8.90"/>
<line class="tk" x1="510.57" y1="5.50" x2="510.57" y2="8.90"/>
<line class="tk" x1="544.54" y1="5.50" x2="544.54" y2="8.90"/>
<line class="tk" x1="578.50" y1="5.50" x2="578.50" y2="10.70"/>
<line class="tk" x1="58.50" y1="326.78" x2="61.70" y2="326.78"/>
<line class="tk" x1="589.50" y1="326.78" x2="586.30" y2="326.78"/>
<line class="tk" x1="58.50" y1="314.89" x2="61.70" y2="314.89"/>
<line class="tk" x1="589.50" y1="314.89" x2="586.30" y2="314.89"/>
<line class="tk" x1="58.50" y1="303.00" x2="63.50" y2="303.00"/>
<line class="tk" x1="589.50" y1="303.00" x2="584.50" y2="303.00"/>
<line class="tk" x1="58.50" y1="291.12" x2="61.70" y2="291.12"/>
<line class="tk" x1="589.50" y1="291.12" x2="586.30" y2="291.12"/>
<line class="tk" x1="58.50" y1="279.23" x2="61.70" y2="279.23"/>
<line class="tk" x1="589.50" y1="279.23" x2="586.30" y2="279.23"/>
<line class="tk" x1="58.50" y1="267.34" x2="61.70" y2="267.34"/>
<line class="tk" x1="589.50" y1="267.34" x2="586.30" y2="267.34"/>
<line class="tk" x1="58.50" y1="255.46" x2="61.70" y2="255.46"/>
<line class="tk" x1="589.50" y1="255.46" x2="586.30" y2="255.46"/>
<line class="tk" x1="58.50" y1="243.57" x2="63.50" y2="243.57"/>
<line class="tk" x1="589.50" y1="243.57" x2="584.50" y2="243.57"/>
<line class="tk" x1="58.50" y1="231.68" x2="61.70" y2="231.68"/>
<line class="tk" x1="589.50" y1="231.68" x2="586.30" y2="231.68"/>
<line class="tk" x1="58.50" y1="219.80" x2="61.70" y2="219.80"/>
<line class="tk" x1="589.50" y1="219.80" x2="586.30" y2="219.80"/>
<line class="tk" x1="58.50" y1="207.91" x2="61.70" y2="207.91"/>
<line class="tk" x1="589.50" y1="207.91" x2="586.30" y2="207.91"/>
<line class="tk" x1="58.50" y1="196.02" x2="61.70" y2="196.02"/>
<line class="tk" x1="589.50" y1="196.02" x2="586.30" y2="196.02"/>
<line class="tk" x1="58.50" y1="184.13" x2="63.50" y2="184.13"/>
<line class="tk" x1="589.50" y1="184.13" x2="584.50" y2="184.13"/>
<line class="tk" x1="58.50" y1="172.25" x2="61.70" y2="172.25"/>
<line class="tk" x1="589.50" y1="172.25" x2="586.30" y2="172.25"/>
<line class="tk" x1="58.50" y1="160.36" x2="61.70" y2="160.36"/>
<line class="tk" x1="589.50" y1="160.36" x2="586.30" y2="160.36"/>
<line class="tk" x1="58.50" y1="148.47" x2="61.70" y2="148.47"/>
<line class="tk" x1="589.50" y1="148.47" x2="586.30" y2="148.47"/>
<line class="tk" x1="58.50" y1="136.59" x2="61.70" y2="136.59"/>
<line class="tk" x1="589.50" y1="136.59" x2="586.30" y2="136.59"/>
<line class="tk" x1="58.50" y1="124.70" x2="63.50" y2="124.70"/>
<line class="tk" x1="589.50" y1="124.70" x2="584.50" y2="124.70"/>
<line class="tk" x1="58.50" y1="112.81" x2="61.70" y2="112.81"/>
<line class="tk" x1="589.50" y1="112.81" x2="586.30" y2="112.81"/>
<line class="tk" x1="58.50" y1="100.93" x2="61.70" y2="100.93"/>
<line class="tk" x1="589.50" y1="100.93" x2="586.30" y2="100.93"/>
<line class="tk" x1="58.50" y1="89.04" x2="61.70" y2="89.04"/>
<line class="tk" x1="589.50" y1="89.04" x2="586.30" y2="89.04"/>
<line class="tk" x1="58.50" y1="77.15" x2="61.70" y2="77.15"/>
<line class="tk" x1="589.50" y1="77.15" x2="586.30" y2="77.15"/>
<line class="tk" x1="58.50" y1="65.27" x2="63.50" y2="65.27"/>
<line class="tk" x1="589.50" y1="65.27" x2="584.50" y2="65.27"/>
<line class="tk" x1="58.50" y1="53.38" x2="61.70" y2="53.38"/>
<line class="tk" x1="589.50" y1="53.38" x2="586.30" y2="53.38"/>
<line class="tk" x1="58.50" y1="41.49" x2="61.70" y2="41.49"/>
<line class="tk" x1="589.50" y1="41.49" x2="586.30" y2="41.49"/>
<line class="tk" x1="58.50" y1="29.60" x2="61.70" y2="29.60"/>
<line class="tk" x1="589.50" y1="29.60" x2="586.30" y2="29.60"/>
<line class="tk" x1="58.50" y1="17.72" x2="61.70" y2="17.72"/>
<line class="tk" x1="589.50" y1="17.72" x2="586.30" y2="17.72"/>
<line class="tk" x1="58.50" y1="5.83" x2="63.50" y2="5.83"/>
<line class="tk" x1="589.50" y1="5.83" x2="584.50" y2="5.83"/>
<text class="tl" x="69.30" y="353.6" text-anchor="middle">0</text>
<text class="tl" x="137.23" y="353.6" text-anchor="middle">2</text>
<text class="tl" x="205.17" y="353.6" text-anchor="middle">4</text>
<text class="tl" x="273.10" y="353.6" text-anchor="middle">6</text>
<text class="tl" x="341.04" y="353.6" text-anchor="middle">8</text>
<text class="tl" x="408.97" y="353.6" text-anchor="middle">10</text>
<text class="tl" x="476.90" y="353.6" text-anchor="middle">12</text>
<text class="tl" x="544.84" y="353.6" text-anchor="middle">14</text>
<text class="tl" x="54.4" y="13.53" text-anchor="end">1.0</text>
<text class="tl" x="54.4" y="71.86" text-anchor="end">0.5</text>
<text class="tl" x="54.4" y="131.30" text-anchor="end">0.0</text>
<text class="tl" x="54.4" y="190.73" text-anchor="end">0.5</text>
<path d="M24.2 186.28H33.5" stroke="#000" stroke-width="1.05" fill="none"/>
<text class="tl" x="54.4" y="250.17" text-anchor="end">1.0</text>
<path d="M24.2 245.72H33.5" stroke="#000" stroke-width="1.05" fill="none"/>
<text class="tl" x="54.4" y="309.61" text-anchor="end">1.5</text>
<path d="M24.2 305.16H33.5" stroke="#000" stroke-width="1.05" fill="none"/>
<!-- arrow -->
<line x1="136.75" y1="334.5" x2="136.75" y2="29" stroke="#f98040" stroke-width="2.6" stroke-dasharray="10.4 4.3 1.2 4.5 1.2 4.51"/>
<path d="M136.75 5.6 L142.75 27.1 Q136.75 23.4 130.75 27.1 Z" fill="#f98040"/>
<!-- axis labels -->
<text x="324.1" y="382.6" text-anchor="middle" font-size="16.8">r</text>
<text transform="translate(11.3 169.3) rotate(-90)" text-anchor="middle" font-size="16.8">g(r)</text>
<!-- annotations -->
<text class="it" x="197.3" y="149.4" font-size="18">r<tspan font-size="13.3" dy="2.6" dx="0.8">inner</tspan></text>
<text class="it" x="383.9" y="149.4" font-size="18">r<tspan font-size="13.3" dy="2.6" dx="0.8">outer</tspan></text>
<text class="it" x="142.00" y="313.20" font-size="18">r</text><path class="eq" d="M151.20 310.70h9.8M152.20 306.60h9.8"/><text class="it" x="161.80" y="313.20" font-size="18">a</text><path class="eq" d="M173.30 310.70h9.8M174.30 306.60h9.8"/><text class="it" x="183.80" y="313.20" font-size="18">2</text>
<!-- legend -->
<g fill="none">
<line x1="383.8" y1="197" x2="429.1" y2="197" stroke="#ff0000" stroke-width="2.9"/>
<line x1="384.3" y1="226.9" x2="429.1" y2="226.9" stroke="#800080" stroke-width="4.1" stroke-dasharray="1.5 4.43"/>
<line x1="383.8" y1="257.4" x2="429.1" y2="257.4" stroke="#0000ff" stroke-width="2.3" stroke-dasharray="5.4 4.0"/>
<line x1="383.8" y1="287.2" x2="429.1" y2="287.2" stroke="#000" stroke-width="2.05"/>
</g>
<text class="it" x="440.50" y="201.00" font-size="18">a</text><path class="eq" d="M452.10 198.50h9.8M453.10 194.40h9.8"/><text class="it" x="463.30" y="201.00" font-size="18">2,</text><text class="it" x="481.20" y="201.00" font-size="18">c</text><path class="eq" d="M492.60 198.50h9.8M493.60 194.40h9.8"/><text class="it" x="503.20" y="201.00" font-size="18" letter-spacing="0.42">0.08</text>
<text class="it" x="440.50" y="231.20" font-size="18">a</text><path class="eq" d="M452.10 228.70h9.8M453.10 224.60h9.8"/><text class="it" x="463.30" y="231.20" font-size="18">2,</text><text class="it" x="481.20" y="231.20" font-size="18">c</text><path class="eq" d="M492.60 228.70h9.8M493.60 224.60h9.8"/><text class="it" x="503.20" y="231.20" font-size="18">0</text>
<text class="it" x="440.50" y="261.20" font-size="18">a</text><path class="eq" d="M452.10 258.70h9.8M453.10 254.60h9.8"/><text class="it" x="463.30" y="261.20" font-size="18">0,</text><text class="it" x="481.20" y="261.20" font-size="18">c</text><path class="eq" d="M492.60 258.70h9.8M493.60 254.60h9.8"/><text class="it" x="503.20" y="261.20" font-size="18" letter-spacing="0.42">0.08</text>
<text class="it" x="440.50" y="291.20" font-size="18">a</text><path class="eq" d="M452.10 288.70h9.8M453.10 284.60h9.8"/><text class="it" x="463.30" y="291.20" font-size="18">0,</text><text class="it" x="481.20" y="291.20" font-size="18">c</text><path class="eq" d="M492.60 288.70h9.8M493.60 284.60h9.8"/><text class="it" x="503.20" y="291.20" font-size="18">0</text>
</svg>
</body></html>
